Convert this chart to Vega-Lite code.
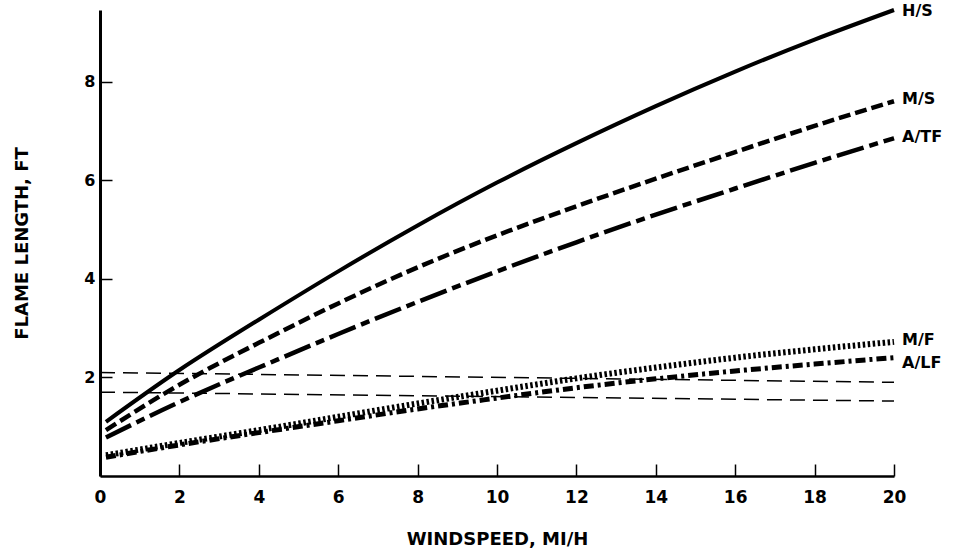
{
  "$schema": "https://vega.github.io/schema/vega-lite/v6.json",
  "width": 794,
  "height": 466,
  "autosize": {"type": "none"},
  "padding": {"left": 100, "top": 10, "right": 67, "bottom": 84},
  "background": "white",
  "config": {"view": {"stroke": null}, "font": "DejaVu Sans"},
  "datasets": {
    "curves": [
      {"series": "H/S", "x": 0.15, "y": 1.1}, {"series": "H/S", "x": 2, "y": 2.15}, {"series": "H/S", "x": 4, "y": 3.17}, {"series": "H/S", "x": 6, "y": 4.15}, {"series": "H/S", "x": 8, "y": 5.08}, {"series": "H/S", "x": 10, "y": 5.95}, {"series": "H/S", "x": 12, "y": 6.75}, {"series": "H/S", "x": 14, "y": 7.5}, {"series": "H/S", "x": 16, "y": 8.2}, {"series": "H/S", "x": 18, "y": 8.85}, {"series": "H/S", "x": 20, "y": 9.45},
      {"series": "M/S", "x": 0.15, "y": 0.93}, {"series": "M/S", "x": 2, "y": 1.85}, {"series": "M/S", "x": 4, "y": 2.7}, {"series": "M/S", "x": 6, "y": 3.5}, {"series": "M/S", "x": 8, "y": 4.23}, {"series": "M/S", "x": 10, "y": 4.88}, {"series": "M/S", "x": 12, "y": 5.47}, {"series": "M/S", "x": 14, "y": 6.03}, {"series": "M/S", "x": 16, "y": 6.57}, {"series": "M/S", "x": 18, "y": 7.1}, {"series": "M/S", "x": 20, "y": 7.6},
      {"series": "A/TF", "x": 0.15, "y": 0.78}, {"series": "A/TF", "x": 2, "y": 1.5}, {"series": "A/TF", "x": 4, "y": 2.2}, {"series": "A/TF", "x": 6, "y": 2.88}, {"series": "A/TF", "x": 8, "y": 3.53}, {"series": "A/TF", "x": 10, "y": 4.15}, {"series": "A/TF", "x": 12, "y": 4.74}, {"series": "A/TF", "x": 14, "y": 5.3}, {"series": "A/TF", "x": 16, "y": 5.83}, {"series": "A/TF", "x": 18, "y": 6.35}, {"series": "A/TF", "x": 20, "y": 6.85},
      {"series": "M/F", "x": 0.15, "y": 0.42}, {"series": "M/F", "x": 2, "y": 0.67}, {"series": "M/F", "x": 4, "y": 0.93}, {"series": "M/F", "x": 6, "y": 1.2}, {"series": "M/F", "x": 8, "y": 1.47}, {"series": "M/F", "x": 10, "y": 1.73}, {"series": "M/F", "x": 12, "y": 1.98}, {"series": "M/F", "x": 14, "y": 2.2}, {"series": "M/F", "x": 16, "y": 2.4}, {"series": "M/F", "x": 18, "y": 2.57}, {"series": "M/F", "x": 20, "y": 2.72},
      {"series": "A/LF", "x": 0.15, "y": 0.38}, {"series": "A/LF", "x": 2, "y": 0.63}, {"series": "A/LF", "x": 4, "y": 0.88}, {"series": "A/LF", "x": 6, "y": 1.12}, {"series": "A/LF", "x": 8, "y": 1.36}, {"series": "A/LF", "x": 10, "y": 1.58}, {"series": "A/LF", "x": 12, "y": 1.79}, {"series": "A/LF", "x": 14, "y": 1.97}, {"series": "A/LF", "x": 16, "y": 2.13}, {"series": "A/LF", "x": 18, "y": 2.27}, {"series": "A/LF", "x": 20, "y": 2.4},
      {"series": "ref1", "x": 0, "y": 2.1}, {"series": "ref1", "x": 20, "y": 1.9},
      {"series": "ref2", "x": 0, "y": 1.7}, {"series": "ref2", "x": 20, "y": 1.52}
    ],
    "labels": [
      {"label": "H/S", "x": 20, "y": 9.42},
      {"label": "M/S", "x": 20, "y": 7.65},
      {"label": "A/TF", "x": 20, "y": 6.88},
      {"label": "M/F", "x": 20, "y": 2.75},
      {"label": "A/LF", "x": 20, "y": 2.3}
    ]
  },
  "encoding": {
    "x": {
      "field": "x", "type": "quantitative",
      "scale": {"domain": [0, 20], "nice": false},
      "axis": {
        "values": [0, 2, 4, 6, 8, 10, 12, 14, 16, 18, 20],
        "grid": false, "tickSize": -12, "tickWidth": 1.5, "tickColor": "black",
        "domainColor": "black", "domainWidth": 2.5,
        "labelFont": "DejaVu Sans", "labelFontWeight": "bold", "labelFontSize": 17, "labelColor": "black",
        "labelPadding": 25, "labelFlush": false,
        "title": "WINDSPEED, MI/H", "titleFont": "DejaVu Sans", "titleFontWeight": "bold", "titleFontSize": 18, "titleColor": "black",
        "titlePadding": 25
      }
    },
    "y": {
      "field": "y", "type": "quantitative",
      "scale": {"domain": [0, 9.45], "nice": false},
      "axis": {
        "values": [2, 4, 6, 8],
        "grid": false, "tickSize": -12, "tickWidth": 1.5, "tickColor": "black",
        "domainColor": "black", "domainWidth": 3,
        "labelFont": "DejaVu Sans", "labelFontWeight": "bold", "labelFontSize": 16, "labelColor": "black",
        "labelPadding": 17,
        "title": "FLAME LENGTH, FT", "titleFont": "DejaVu Sans", "titleFontWeight": "bold", "titleFontSize": 18, "titleColor": "black",
        "titlePadding": 52
      }
    }
  },
  "layer": [
    {
      "data": {"name": "curves"},
      "transform": [{"filter": "datum.series === 'ref1' || datum.series === 'ref2'"}],
      "mark": {"type": "line", "color": "black", "strokeWidth": 1.5, "strokeDash": [15, 8], "strokeCap": "butt"},
      "encoding": {"detail": {"field": "series", "type": "nominal"}}
    },
    {
      "data": {"name": "curves"},
      "transform": [{"filter": "datum.series === 'H/S'"}],
      "mark": {"type": "line", "interpolate": "natural", "color": "black", "strokeWidth": 4, "clip": false}
    },
    {
      "data": {"name": "curves"},
      "transform": [{"filter": "datum.series === 'M/S'"}],
      "mark": {"type": "line", "interpolate": "natural", "color": "black", "strokeWidth": 4.5, "strokeDash": [12, 5], "strokeCap": "butt"}
    },
    {
      "data": {"name": "curves"},
      "transform": [{"filter": "datum.series === 'A/TF'"}],
      "mark": {"type": "line", "interpolate": "natural", "color": "black", "strokeWidth": 4.5, "strokeDash": [28, 6, 9, 6], "strokeCap": "butt"}
    },
    {
      "data": {"name": "curves"},
      "transform": [{"filter": "datum.series === 'M/F'"}],
      "mark": {"type": "line", "interpolate": "natural", "color": "black", "strokeWidth": 6, "strokeDash": [2.5, 2.5], "strokeCap": "butt"}
    },
    {
      "data": {"name": "curves"},
      "transform": [{"filter": "datum.series === 'A/LF'"}],
      "mark": {"type": "line", "interpolate": "natural", "color": "black", "strokeWidth": 5, "strokeDash": [10, 4, 3, 4], "strokeCap": "butt"}
    },
    {
      "data": {"name": "labels"},
      "mark": {"type": "text", "align": "left", "baseline": "middle", "dx": 8, "font": "DejaVu Sans", "fontWeight": "bold", "fontSize": 16, "color": "black", "clip": false},
      "encoding": {
        "text": {"field": "label"}
      }
    }
  ]
}
